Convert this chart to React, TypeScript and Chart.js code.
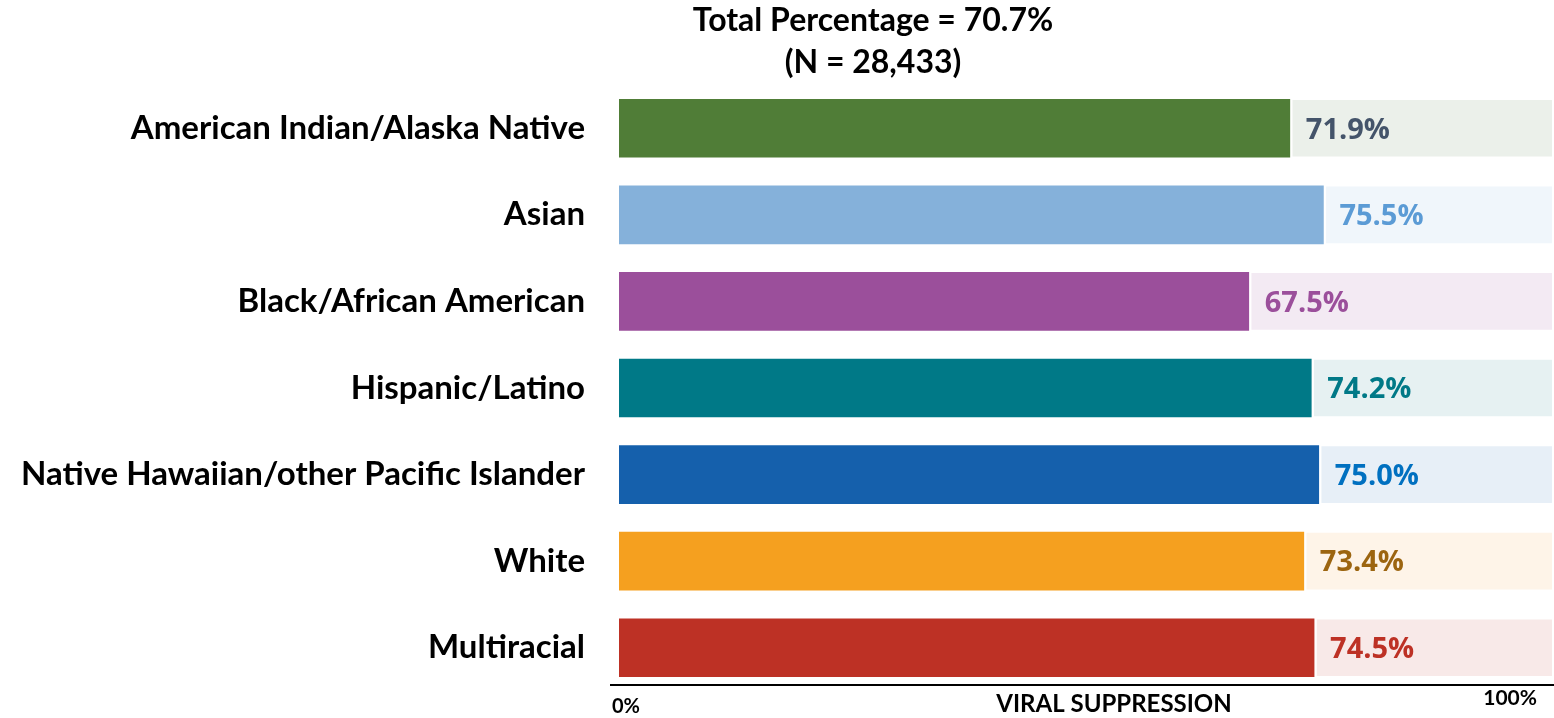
import React, { useEffect, useRef } from "react";
import { Chart, registerables } from "chart.js";

Chart.register(...registerables);

const categories = [
  "American Indian/Alaska Native",
  "Asian",
  "Black/African American",
  "Hispanic/Latino",
  "Native Hawaiian/other Pacific Islander",
  "White",
  "Multiracial",
];
const values = [71.9, 75.5, 67.5, 74.2, 75.0, 73.4, 74.5];
const remainders = values.map((v) => 100 - v);
const barColors = ["#507D37", "#85B1DA", "#9B4F9B", "#007987", "#1560AC", "#F5A01F", "#BD3125"];
const bgColors = ["#EBF0EA", "#F0F6FB", "#F3EAF3", "#E6F1F2", "#E7EFF7", "#FEF4E8", "#F8E9E8"];
const labelColors = ["#44546A", "#5B9BD5", "#9B4F9B", "#007987", "#0070C0", "#9C6510", "#BD3125"];
const titleLines = ["Total Percentage = 70.7%", "(N = 28,433)"];
const axisTitle = "VIRAL SUPPRESSION";
const axisMinLabel = "0%";
const axisMaxLabel = "100%";

const LABEL_FONT = "Lato, 'Noto Sans', sans-serif";
const VALUE_FONT = "'Open Sans', 'Noto Sans', sans-serif";

const overlayPlugin = {
  id: "overlay",
  afterDatasetsDraw(chart: any) {
    const ctx = chart.ctx;
    const area = chart.chartArea;
    const meta = chart.getDatasetMeta(0);
    ctx.save();
    // value labels
    ctx.font = `bold 29px ${VALUE_FONT}`;
    ctx.textAlign = "left";
    ctx.textBaseline = "middle";
    meta.data.forEach((bar: any, i: number) => {
      ctx.fillStyle = labelColors[i];
      ctx.fillText(values[i].toFixed(1) + "%", bar.x + 16, bar.y + 2);
    });
    // title
    ctx.fillStyle = "#000";
    ctx.textAlign = "center";
    ctx.font = `bold 32px ${LABEL_FONT}`;
    ctx.fillText(titleLines[0], 873, 21);
    ctx.fillText(titleLines[1], 873, 63);
    // axis line
    const yLine = area.bottom - 6;
    ctx.strokeStyle = "#000";
    ctx.lineWidth = 2;
    ctx.beginPath();
    ctx.moveTo(area.left - 9, yLine);
    ctx.lineTo(chart.width, yLine);
    ctx.stroke();
    // axis labels
    ctx.font = `bold 20px ${LABEL_FONT}`;
    ctx.textAlign = "left";
    ctx.fillText(axisMinLabel, area.left - 7, yLine + 22);
    ctx.textAlign = "right";
    ctx.font = `bold 21px ${LABEL_FONT}`;
    ctx.fillText(axisMaxLabel, area.right - 15, yLine + 13);
    ctx.textAlign = "center";
    ctx.font = `bold 24px ${LABEL_FONT}`;
    ctx.fillText(axisTitle, 1114, yLine + 19);
    ctx.restore();
  },
};

export default function App() {
  const ref = useRef<HTMLCanvasElement | null>(null);
  useEffect(() => {
    if (!ref.current) return;
    const chart = new Chart(ref.current, {
      type: "bar",
      data: {
        labels: categories,
        datasets: [
          {
            data: values,
            backgroundColor: barColors,
            borderWidth: 0,
            barThickness: 58,
          },
          {
            data: remainders,
            backgroundColor: bgColors,
            borderColor: "#ffffff",
            borderWidth: { left: 3, top: 1, bottom: 1, right: 0 },
            borderSkipped: false,
            barThickness: 58,
          },
        ],
      },
      options: {
        indexAxis: "y",
        animation: false,
        responsive: false,
        maintainAspectRatio: false,
        layout: { padding: { top: 85, bottom: 27, left: 0, right: 2 } },
        plugins: {
          legend: { display: false },
          tooltip: { enabled: false },
          title: { display: false },
        },
        scales: {
          x: {
            stacked: true,
            min: 0,
            max: 100,
            display: false,
          },
          y: {
            stacked: true,
            grid: { display: false, drawTicks: false },
            border: { display: false },
            ticks: {
              color: "#000",
              padding: 34,
              font: { family: LABEL_FONT, size: 33, weight: "bold" },
            },
            afterFit: (scale: any) => {
              scale.width = 619;
              scale.paddingTop = 0;
              scale.paddingBottom = 0;
            },
          },
        },
      },
      plugins: [overlayPlugin],
    });
    return () => chart.destroy();
  }, []);
  return (
    <div style={{ position: "absolute", left: 0, top: 0, width: 1554, height: 718, background: "#fff" }}>
      <canvas ref={ref} width={1554} height={718} style={{ display: "block", width: 1554, height: 718 }} />
    </div>
  );
}
